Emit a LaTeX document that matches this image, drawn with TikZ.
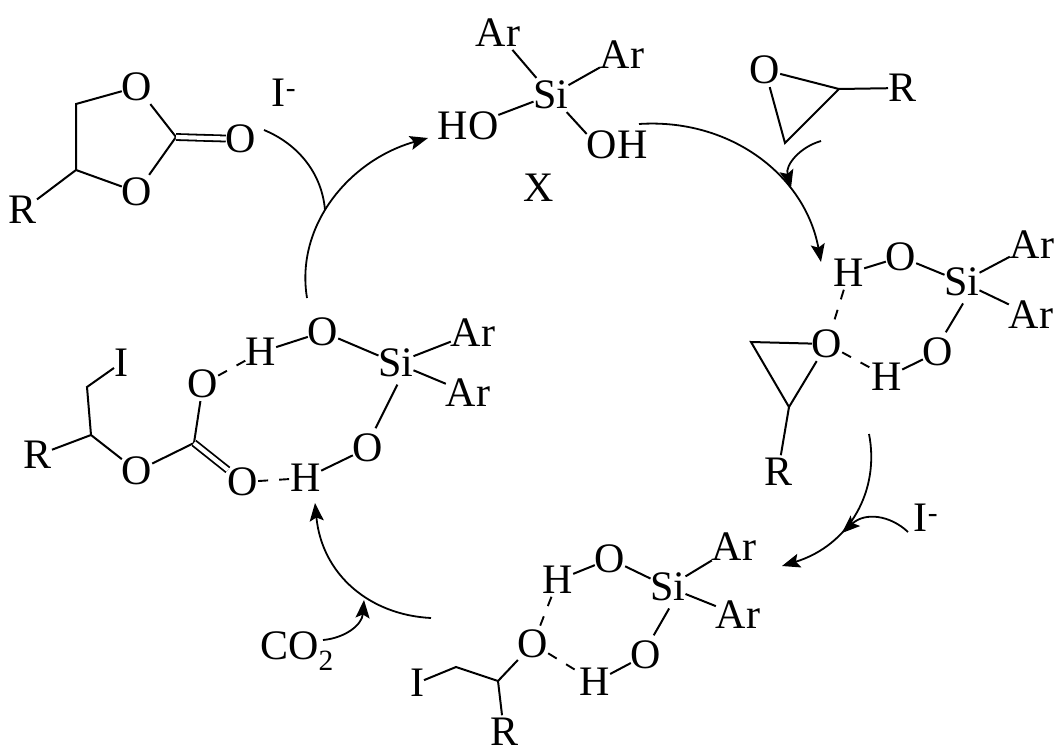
\documentclass[tikz,border=0pt]{standalone}
\usepackage{fontspec}
\setmainfont{Liberation Serif}
\usetikzlibrary{arrows.meta}

\begin{document}
\begin{tikzpicture}[
    x=1pt, y=-1pt,
    atom/.style={inner xsep=0pt, inner ysep=3pt, outer sep=0pt,
        font=\fontsize{42}{46}\selectfont},
    bond/.style={line width=2pt},
    dbond/.style={line width=1.8pt, double, double distance=4.2pt},
    hbond/.style={line width=1.9pt, dash pattern=on 10pt off 11pt},
    curly/.style={line width=1.8pt, -{Stealth[length=18pt, width=14pt, inset=3.5pt]}}
  ]
  \useasboundingbox (0,0) rectangle (1064,754);

  \node[atom] (oa) at (137,87) {O};
  \node[atom] (ob) at (137,192) {O};
  \node[atom] (oc) at (241,139) {O};
  \node[atom] (ra) at (23,210) {R};
  \node[atom] (ia) at (284,93) {I\textsuperscript{-}};
  \coordinate (ca) at (76,104);
  \coordinate (cb) at (76,170);
  \coordinate (cc) at (176,137);
  \draw[bond] (oa) -- (ca) -- (cb) -- (ob);
  \draw[bond] (cb) -- (ra);
  \draw[bond] (oa) -- (cc) -- (ob);
  \draw[dbond] (cc) -- (oc);

  \node[atom] (arxa) at (498,33) {Ar};
  \node[atom] (arxb) at (622,55) {Ar};
  \node[atom] (six) at (551,95) {Si};
  \node[atom] (hox) at (468,126) {HO};
  \node[atom] (ohx) at (617,145) {OH};
  \node[atom] (xlab) at (539,188) {X};
  \draw[bond] (arxa) -- (six);
  \draw[bond] (arxb) -- (six);
  \draw[bond] (hox.20) -- (six);
  \draw[bond] (six) -- (ohx.160);

  \node[atom] (oep) at (765,70) {O};
  \node[atom] (rep) at (902,88) {R};
  \coordinate (cea) at (839,89);
  \coordinate (ceb) at (785,143);
  \draw[bond] (oep) -- (cea) -- (ceb) -- (oep);
  \draw[bond] (cea) -- (rep);

  \node[atom] (hra) at (849,273) {H};
  \node[atom] (ora) at (901,257) {O};
  \node[atom] (sir) at (962,282) {Si};
  \node[atom] (arra) at (1032,245) {Ar};
  \node[atom] (arrb) at (1031,315) {Ar};
  \node[atom] (orb) at (938,352) {O};
  \node[atom] (hrb) at (887,377) {H};
  \node[atom] (orc) at (827,344) {O};
  \node[atom] (rr) at (778,472) {R};
  \coordinate (cra) at (751,342);
  \coordinate (crb) at (789,407);
  \draw[bond] (hra) -- (ora) -- (sir) -- (arra);
  \draw[bond] (sir) -- (arrb);
  \draw[bond, shorten <=5pt, shorten >=3pt] (sir.-78) -- (orb.70);
  \draw[bond] (orb) -- (hrb);
  \draw[hbond] (hra) -- (orc);
  \draw[hbond] (orc) -- (hrb);
  \draw[bond] (orc) -- (cra) -- (crb) -- (orc);
  \draw[bond] (crb) -- (rr);

  \node[atom] (iin) at (926,518) {I\textsuperscript{-}};

  \node[atom] (hba) at (558,580) {H};
  \node[atom] (oba) at (610,559) {O};
  \node[atom] (sib) at (668,587) {Si};
  \node[atom] (arba) at (734,547) {Ar};
  \node[atom] (arbb) at (738,615) {Ar};
  \node[atom] (obb) at (646,655) {O};
  \node[atom] (hbb) at (595,682) {H};
  \node[atom] (obc) at (533,644) {O};
  \node[atom] (ib) at (417,683) {I};
  \node[atom] (rb) at (504,732) {R};
  \coordinate (cba) at (456,667);
  \coordinate (cbb) at (498,681);
  \draw[bond] (hba) -- (oba) -- (sib) -- (arba);
  \draw[bond] (sib) -- (arbb);
  \draw[bond, shorten <=5pt, shorten >=3pt] (sib.-78) -- (obb.70);
  \draw[bond] (obb) -- (hbb);
  \draw[hbond] (hba) -- (obc);
  \draw[hbond] (obc) -- (hbb);
  \draw[bond] (ib) -- (cba) -- (cbb) -- (obc);
  \draw[bond] (cbb) -- (rb);

  \node[atom] (cotwo) at (297,651) {CO\textsubscript{2}};

  \node[atom] (hla) at (261,352) {H};
  \node[atom] (ola) at (323,332) {O};
  \node[atom] (sil) at (396,363) {Si};
  \node[atom] (arla) at (473,333) {Ar};
  \node[atom] (arlb) at (468,393) {Ar};
  \node[atom] (olb) at (368,448) {O};
  \node[atom] (hlb) at (306,478) {H};
  \node[atom] (olc) at (243,482) {O};
  \node[atom] (old) at (203,384) {O};
  \node[atom] (ole) at (137,471) {O};
  \node[atom] (il) at (121,363) {I};
  \node[atom] (rl) at (38,455) {R};
  \coordinate (cla) at (194,443);
  \coordinate (clb) at (91,435);
  \coordinate (clc) at (87,387);
  \draw[bond] (hla) -- (ola) -- (sil) -- (arla);
  \draw[bond] (sil) -- (arlb);
  \draw[bond, shorten <=5pt, shorten >=3pt] (sil.-78) -- (olb.70);
  \draw[bond] (olb) -- (hlb);
  \draw[hbond] (old) -- (hla);
  \draw[hbond] (olc) -- (hlb);
  \draw[bond] (old) -- (cla) -- (ole) -- (clb) -- (clc) -- (il);
  \draw[bond] (clb) -- (rl);
  \draw[dbond] (cla) -- (olc);

  \coordinate (stara) at (264,130);
  \coordinate (enda) at (325,210);
  \coordinate (starb) at (307,298);
  \coordinate (endb) at (428,138);
  \coordinate (starc) at (639,124);
  \coordinate (endc) at (821,262);
  \coordinate (stard) at (821,141);
  \coordinate (endd) at (791,188);
  \coordinate (stare) at (869,434);
  \coordinate (ende) at (782,566);
  \coordinate (starf) at (908,532);
  \coordinate (endf) at (842,533);
  \coordinate (starg) at (431,618);
  \coordinate (endg) at (315,503);
  \coordinate (starh) at (323,640);
  \coordinate (endh) at (364,600);
  \draw[line width=1.8pt] (stara) .. controls (300,145) and (322,175) .. (enda);
  \draw[curly] (starb) .. controls (295,225) and (350,160) .. (endb);
  \draw[curly] (starc) .. controls (730,118) and (805,175) .. (endc);
  \draw[curly] (stard) .. controls (800,147) and (785,165) .. (endd);
  \draw[curly] (stare) .. controls (880,490) and (850,545) .. (ende);
  \draw[curly] (starf) .. controls (890,515) and (865,512) .. (endf);
  \draw[curly] (starg) .. controls (370,615) and (322,575) .. (endg);
  \draw[curly] (starh) .. controls (345,638) and (362,625) .. (endh);
\end{tikzpicture}
\end{document}
